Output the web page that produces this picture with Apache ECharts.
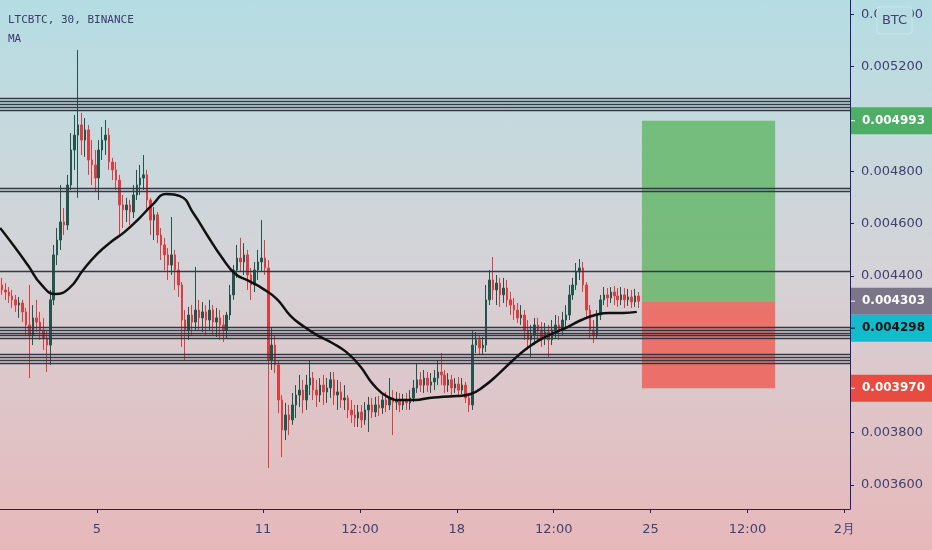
<!DOCTYPE html>
<html><head><meta charset="utf-8">
<script src="https://cdn.jsdelivr.net/npm/echarts@6/dist/echarts.min.js"></script>
<style>
html,body{margin:0;padding:0;width:932px;height:550px;overflow:hidden;
background:linear-gradient(to bottom,#b4dde3 0%,#c6d9dd 25%,#d4d3d7 48%,#dcc8cb 68%,#e7b8ba 100%);}
#chart{width:932px;height:550px;}
</style>
</head><body><div id="chart"></div>
<script>
// ---------- data ----------
const symbolTitle = 'LTCBTC, 30, BINANCE';
const indicatorTitle = 'MA';
const currencyLabel = 'BTC';

const candleStart = '2020-01-01T12:00:00Z';
const candleStepHours = 3;
// [open, close, low, high]
const ohlc = [
[0.004365,0.004346,0.004327,0.004392],[0.004346,0.004338,0.004308,0.004372],[0.004338,0.004323,0.004296,0.004357],[0.004323,0.004308,0.004277,0.004346],
[0.004308,0.004288,0.004262,0.004327],[0.004288,0.004296,0.004239,0.004319],[0.004296,0.004262,0.004223,0.004308],[0.004262,0.004212,0.004174,0.004277],
[0.004212,0.004174,0.004009,0.004365],[0.004174,0.004239,0.004135,0.004288],[0.004239,0.004223,0.004185,0.004308],[0.004223,0.004193,0.004155,0.004262],
[0.004193,0.004162,0.004116,0.004239],[0.004162,0.004135,0.004032,0.004193],[0.004135,0.004308,0.004059,0.004346],[0.004308,0.004480,0.004288,0.004518],
[0.004480,0.004537,0.004441,0.004583],[0.004537,0.004606,0.004499,0.004747],[0.004606,0.004594,0.004556,0.004659],[0.004594,0.004747,0.004575,0.004786],
[0.004747,0.004881,0.004728,0.004946],[0.004881,0.004938,0.004805,0.005015],[0.004938,0.004977,0.004698,0.005264],[0.004977,0.004919,0.004862,0.005023],
[0.004919,0.004958,0.004855,0.005003],[0.004958,0.004843,0.004786,0.004977],[0.004843,0.004824,0.004747,0.004919],[0.004824,0.004774,0.004720,0.004881],
[0.004774,0.004881,0.004690,0.004919],[0.004881,0.004919,0.004843,0.004969],[0.004919,0.004938,0.004862,0.004996],[0.004938,0.004835,0.004805,0.004965],
[0.004835,0.004805,0.004766,0.004851],[0.004805,0.004766,0.004728,0.004835],[0.004766,0.004671,0.004556,0.004786],[0.004671,0.004652,0.004583,0.004709],
[0.004652,0.004671,0.004606,0.004698],[0.004671,0.004644,0.004594,0.004690],[0.004644,0.004709,0.004621,0.004747],[0.004709,0.004747,0.004690,0.004805],
[0.004747,0.004774,0.004709,0.004824],[0.004774,0.004786,0.004728,0.004862],[0.004786,0.004690,0.004652,0.004805],[0.004690,0.004613,0.004556,0.004698],
[0.004613,0.004633,0.004537,0.004663],[0.004633,0.004556,0.004525,0.004644],[0.004556,0.004518,0.004460,0.004583],[0.004518,0.004480,0.004422,0.004545],
[0.004480,0.004441,0.004384,0.004506],[0.004441,0.004480,0.004403,0.004625],[0.004480,0.004422,0.004346,0.004499],[0.004422,0.004365,0.004319,0.004453],
[0.004365,0.004231,0.004128,0.004376],[0.004231,0.004193,0.004078,0.004269],[0.004193,0.004250,0.004155,0.004281],[0.004250,0.004223,0.004174,0.004288],
[0.004223,0.004269,0.004193,0.004434],[0.004269,0.004239,0.004193,0.004308],[0.004239,0.004262,0.004185,0.004300],[0.004262,0.004231,0.004174,0.004288],
[0.004231,0.004269,0.004193,0.004308],[0.004269,0.004223,0.004174,0.004288],[0.004223,0.004239,0.004166,0.004277],[0.004239,0.004212,0.004155,0.004269],
[0.004212,0.004193,0.004147,0.004250],[0.004193,0.004250,0.004162,0.004262],[0.004250,0.004327,0.004231,0.004365],[0.004327,0.004422,0.004308,0.004441],
[0.004422,0.004468,0.004392,0.004518],[0.004468,0.004453,0.004415,0.004545],[0.004453,0.004480,0.004403,0.004525],[0.004480,0.004403,0.004346,0.004499],
[0.004403,0.004365,0.004308,0.004430],[0.004365,0.004422,0.004338,0.004453],[0.004422,0.004453,0.004384,0.004499],[0.004453,0.004468,0.004415,0.004613],
[0.004468,0.004430,0.004403,0.004537],[0.004430,0.004078,0.003665,0.004460],[0.004078,0.004135,0.004040,0.004200],[0.004135,0.004059,0.004028,0.004174],
[0.004059,0.003925,0.003875,0.004078],[0.003925,0.003810,0.003707,0.003944],[0.003810,0.003868,0.003772,0.003914],[0.003868,0.003849,0.003791,0.003906],
[0.003849,0.003906,0.003830,0.003952],[0.003906,0.003944,0.003856,0.003982],[0.003944,0.003963,0.003898,0.004021],[0.003963,0.003925,0.003875,0.004002],
[0.003925,0.003982,0.003887,0.004021],[0.003982,0.004009,0.003944,0.004078],[0.004009,0.003963,0.003925,0.004032],[0.003963,0.003944,0.003898,0.004002],
[0.003944,0.003982,0.003917,0.004009],[0.003982,0.003956,0.003906,0.004021],[0.003956,0.003971,0.003914,0.004009],[0.003971,0.004002,0.003933,0.004032],
[0.004002,0.003944,0.003906,0.004032],[0.003944,0.003956,0.003887,0.004002],[0.003956,0.003925,0.003895,0.003994],[0.003925,0.003933,0.003887,0.003982],
[0.003933,0.003887,0.003856,0.003944],[0.003887,0.003868,0.003837,0.003925],[0.003868,0.003856,0.003822,0.003906],[0.003856,0.003879,0.003822,0.003906],
[0.003879,0.003849,0.003818,0.003906],[0.003849,0.003887,0.003830,0.003917],[0.003887,0.003906,0.003803,0.003937],[0.003906,0.003879,0.003856,0.003933],
[0.003879,0.003906,0.003860,0.003937],[0.003906,0.003895,0.003864,0.003941],[0.003895,0.003925,0.003872,0.003944],[0.003925,0.003906,0.003879,0.003956],
[0.003906,0.003933,0.003887,0.004009],[0.003933,0.003917,0.003791,0.003963],[0.003917,0.003925,0.003887,0.003956],[0.003925,0.003906,0.003879,0.003952],
[0.003906,0.003925,0.003887,0.003948],[0.003925,0.003914,0.003887,0.003952],[0.003914,0.003933,0.003887,0.003963],[0.003933,0.003971,0.003917,0.004002],
[0.003971,0.004002,0.003952,0.004067],[0.004002,0.003982,0.003956,0.004032],[0.003982,0.004009,0.003952,0.004040],[0.004009,0.003982,0.003956,0.004032],
[0.003982,0.003994,0.003952,0.004028],[0.003994,0.004009,0.003963,0.004040],[0.004009,0.004032,0.003982,0.004078],[0.004032,0.004021,0.003982,0.004105],
[0.004021,0.003982,0.003952,0.004040],[0.003982,0.004002,0.003956,0.004028],[0.004002,0.003971,0.003944,0.004021],[0.003971,0.003986,0.003952,0.004009],
[0.003986,0.003963,0.003941,0.004013],[0.003963,0.003982,0.003948,0.004009],[0.003982,0.003933,0.003914,0.003994],[0.003933,0.003906,0.003879,0.003944],
[0.003906,0.004135,0.003887,0.004193],[0.004135,0.004155,0.004105,0.004185],[0.004155,0.004124,0.004097,0.004174],[0.004124,0.004135,0.004097,0.004166],
[0.004135,0.004308,0.004109,0.004365],[0.004308,0.004384,0.004288,0.004422],[0.004384,0.004346,0.004308,0.004472],[0.004346,0.004372,0.004288,0.004403],
[0.004372,0.004327,0.004281,0.004392],[0.004327,0.004353,0.004296,0.004392],[0.004353,0.004308,0.004281,0.004384],[0.004308,0.004288,0.004250,0.004338],
[0.004288,0.004269,0.004231,0.004315],[0.004269,0.004239,0.004220,0.004296],[0.004239,0.004250,0.004212,0.004288],[0.004250,0.004193,0.004155,0.004269],
[0.004193,0.004155,0.004116,0.004231],[0.004155,0.004174,0.004090,0.004212],[0.004174,0.004212,0.004135,0.004239],[0.004212,0.004193,0.004155,0.004239],
[0.004193,0.004162,0.004128,0.004223],[0.004162,0.004185,0.004135,0.004220],[0.004185,0.004155,0.004090,0.004212],[0.004155,0.004193,0.004135,0.004231],
[0.004193,0.004212,0.004162,0.004250],[0.004212,0.004193,0.004155,0.004246],[0.004193,0.004231,0.004174,0.004262],[0.004231,0.004250,0.004200,0.004288],
[0.004250,0.004327,0.004231,0.004365],[0.004327,0.004365,0.004308,0.004392],[0.004365,0.004415,0.004346,0.004449],[0.004415,0.004430,0.004384,0.004464],
[0.004430,0.004365,0.004338,0.004453],[0.004365,0.004269,0.004239,0.004376],[0.004269,0.004193,0.004162,0.004288],[0.004193,0.004174,0.004143,0.004231],
[0.004174,0.004250,0.004162,0.004269],[0.004250,0.004308,0.004231,0.004327],[0.004308,0.004327,0.004288,0.004357],[0.004327,0.004315,0.004281,0.004353],
[0.004315,0.004338,0.004296,0.004357],[0.004338,0.004323,0.004288,0.004361],[0.004323,0.004308,0.004281,0.004353],[0.004308,0.004327,0.004288,0.004357],
[0.004327,0.004308,0.004277,0.004353],[0.004308,0.004319,0.004285,0.004350],[0.004319,0.004300,0.004277,0.004346],[0.004300,0.004323,0.004281,0.004350],
[0.004323,0.004303,0.004277,0.004338]
];

const maStart = '2020-01-01T12:00:00Z';
const maStepHours = 12;
const maValues = [
0.004583,0.004514,0.004441,0.004365,0.004330,0.004353,0.004422,0.004483,0.004529,0.004568,
0.004617,0.004671,0.004713,0.004705,0.004636,0.004552,0.004472,0.004407,0.004380,0.004350,
0.004311,0.004246,0.004204,0.004170,0.004143,0.004109,0.004055,0.003982,0.003937,0.003925,
0.003925,0.003933,0.003937,0.003940,0.003948,0.003979,0.004024,0.004074,0.004120,0.004155,
0.004181,0.004204,0.004231,0.004250,0.004258,0.004258,0.004262
];

const levelLines = [0.005078,0.005069,0.005057,0.005044,0.005032,0.004735,0.004725,0.004416,
0.004202,0.004193,0.004182,0.004173,0.004163,0.004100,0.004090,0.004078,0.004067];

const positionStart = '2020-01-24T16:30:00Z';
const positionEnd = '2020-01-29T12:00:00Z';
const entryPrice = 0.004303;
const targetPrice = 0.004993;
const stopPrice = 0.003970;
const lastPrice = 0.004303;
const markerPrice = 0.004298;

const xTickTimes = ['2020-01-05T00:00:00Z','2020-01-11T00:00:00Z','2020-01-14T12:00:00Z','2020-01-18T00:00:00Z',
'2020-01-21T12:00:00Z','2020-01-25T00:00:00Z','2020-01-28T12:00:00Z','2020-02-01T00:00:00Z'];
const xTickLabels = ['5','11','12:00','18','12:00','25','12:00','2月'];
const yTickValues = [0.0036,0.0038,0.0044,0.0046,0.0048,0.0052,0.0054];
const xRange = ['2020-01-01T11:54:00Z','2020-02-01T04:54:00Z'];
const yRange = [0.0035082, 0.0054547];

// ---------- build ----------
const H = 3600 * 1000;
const t0 = Date.parse(candleStart);
const candleData = ohlc.map((r, i) => [t0 + (i + 0.5) * candleStepHours * H, r[0], r[1], r[2], r[3]]);
const m0 = Date.parse(maStart);
const maData = maValues.map((v, i) => [m0 + i * maStepHours * H, v]);
const xTicks = xTickTimes.map(s => Date.parse(s));
const labelMap = {};
xTicks.forEach((t, i) => labelMap[t] = xTickLabels[i]);
const xMin = Date.parse(xRange[0]), xMax = Date.parse(xRange[1]);

const axisColor = '#1e1e7a';
const textColor = '#414170';
const upColor = '#22554e';
const downColor = '#e03c40';

const chart = echarts.init(document.getElementById('chart'), null, {renderer: 'canvas'});
const option = {
  animation: false,
  backgroundColor: 'transparent',
  grid: {left: 0, right: 82, top: 0, bottom: 41, containLabel: false},
  xAxis: {
    type: 'value',
    min: xMin, max: xMax,
    axisLine: {show: true, onZero: false, lineStyle: {color: axisColor, width: 1}},
    axisTick: {show: true, length: 4, lineStyle: {color: axisColor}, customValues: xTicks},
    axisLabel: {color: textColor, fontSize: 13, fontFamily: 'DejaVu Sans', margin: 14,
      customValues: xTicks, formatter: v => labelMap[v] || ''},
    splitLine: {show: false}
  },
  yAxis: {
    type: 'value', position: 'right',
    min: yRange[0], max: yRange[1],
    axisLine: {show: true, lineStyle: {color: axisColor, width: 1}},
    axisTick: {show: true, length: 4, lineStyle: {color: axisColor}, customValues: yTickValues},
    axisLabel: {color: textColor, fontSize: 13, fontFamily: 'DejaVu Sans', margin: 11,
      customValues: yTickValues, formatter: v => v.toFixed(6)},
    splitLine: {show: false}
  },
  series: [
    {
      type: 'line', z: 1, data: [], silent: true,
      markLine: {
        silent: true, symbol: 'none', animation: false,
        label: {show: false},
        lineStyle: {color: '#323844', width: 1.3, type: 'solid'},
        data: levelLines.map(v => [{coord: [xMin, v]}, {coord: [xMax, v]}])
      }
    },
    {
      type: 'candlestick', z: 2,
      data: candleData,
      encode: {x: 0, y: [1, 2, 3, 4]},
      barWidth: 2,
      itemStyle: {color: upColor, color0: downColor, borderColor: upColor, borderColor0: downColor, borderWidth: 1}
    },
    {
      type: 'line', z: 6, data: maData, smooth: true, showSymbol: false, symbol: 'none',
      lineStyle: {color: '#111111', width: 2.5}
    },
    {
      type: 'line', z: 8, data: [],
      markArea: {
        silent: true,
        data: [
          [{xAxis: Date.parse(positionStart), yAxis: entryPrice, itemStyle: {color: 'rgba(76,175,80,0.68)'}},
           {xAxis: Date.parse(positionEnd), yAxis: targetPrice}],
          [{xAxis: Date.parse(positionStart), yAxis: stopPrice, itemStyle: {color: 'rgba(244,67,54,0.66)'}},
           {xAxis: Date.parse(positionEnd), yAxis: entryPrice}]
        ]
      }
    }
  ]
};
chart.setOption(option);

// price labels on the right axis
const yPix = v => chart.convertToPixel({yAxisIndex: 0}, v);
const axisX = 851;
const lastY = yPix(lastPrice);
const labels = [
  {v: targetPrice, y: yPix(targetPrice), bg: '#4caf65', fg: '#ffffff'},
  {v: lastPrice, y: lastY, bg: '#7a7589', fg: '#ffffff'},
  {v: markerPrice, y: Math.max(yPix(markerPrice), lastY + 27), bg: '#12bccd', fg: '#111111'},
  {v: stopPrice, y: yPix(stopPrice), bg: '#e84b40', fg: '#ffffff'}
];
const graphics = [];
labels.forEach(l => {
  graphics.push({type: 'rect', z: 100, shape: {x: axisX, y: l.y - 13.5, width: 932 - axisX, height: 27},
    style: {fill: l.bg}});
  graphics.push({type: 'line', z: 101, shape: {x1: axisX, y1: l.y, x2: axisX + 4, y2: l.y},
    style: {stroke: l.fg, lineWidth: 1}});
  graphics.push({type: 'text', z: 101, x: 862, y: l.y,
    style: {text: l.v.toFixed(6), fill: l.fg, font: 'bold 12px "DejaVu Sans"', verticalAlign: 'middle'}});
});
// currency box
graphics.push({type: 'rect', z: 100, shape: {x: 877, y: 7, width: 35, height: 27, r: 3},
  style: {fill: '#b7dce2', stroke: '#cde6ea', lineWidth: 1}});
graphics.push({type: 'text', z: 101, x: 894.5, y: 20.5,
  style: {text: currencyLabel, fill: textColor, font: '13px "DejaVu Sans"', align: 'center', verticalAlign: 'middle'}});
// titles
graphics.push({type: 'text', z: 101, x: 8, y: 20,
  style: {text: symbolTitle, fill: '#3b3b6b', font: '11px "DejaVu Sans Mono"', verticalAlign: 'middle'}});
graphics.push({type: 'text', z: 101, x: 8, y: 39,
  style: {text: indicatorTitle, fill: '#3b3b6b', font: '11px "DejaVu Sans Mono"', verticalAlign: 'middle'}});
chart.setOption({graphic: graphics});
</script>
</body></html>
